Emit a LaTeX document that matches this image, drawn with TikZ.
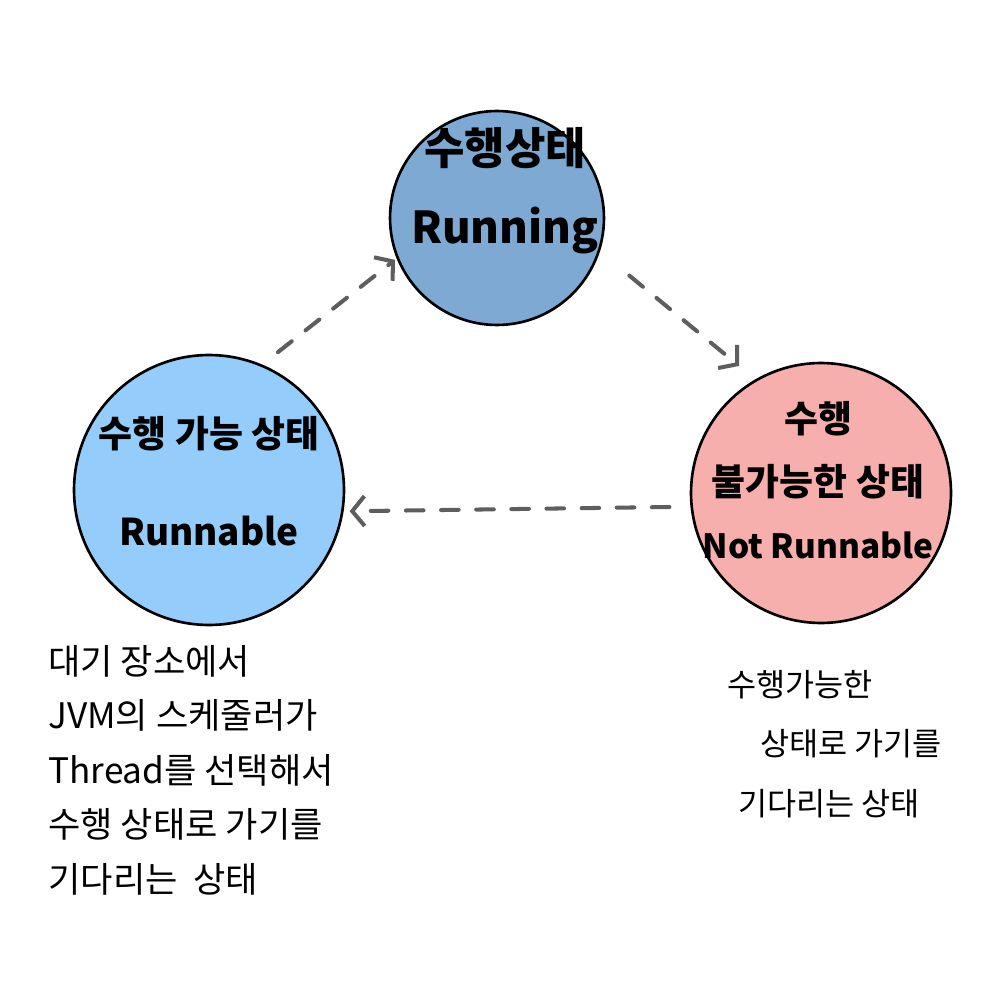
\documentclass[tikz,border=0pt]{standalone}
\usepackage{fontspec}
\setmainfont{Noto Sans CJK KR}
\usetikzlibrary{arrows.meta}
\definecolor{runblue}{HTML}{7DA9D3}
\definecolor{readyblue}{HTML}{94CDFB}
\definecolor{waitpink}{HTML}{F7AFAD}
\definecolor{flowgray}{HTML}{5E5E5E}

\begin{document}
\begin{tikzpicture}[x=0.02cm,y=-0.02cm,
    state/.style={circle,draw=black,line width=1.5pt,inner sep=0pt},
    flow/.style={draw=flowgray,line width=2.3pt,line cap=round,
        dash pattern=on 10pt off 10pt,
        -{Straight Barb[length=7pt,width=17pt,line width=2.3pt]}},
    note/.style={align=left,inner sep=0pt}]
    \useasboundingbox (0,0) rectangle (1004,1000);
    % the three states
    \node[state,fill=runblue,minimum size=4.28cm] (running) at (497,218) {};
    \node[state,fill=readyblue,minimum size=5.4cm] (runnable) at (209,490) {};
    \node[state,fill=waitpink,minimum size=5.2cm] (notrun) at (821,493) {};
    \node[font=\bfseries\fontsize{25}{45}\selectfont,align=center] (runningtxt)
        at (505,191) {수행상태\\Running};
    \node[font=\bfseries\fontsize{21}{56}\selectfont,align=center] (runnabletxt)
        at (209,481) {수행 가능 상태\\Runnable};
    \node[font=\bfseries\fontsize{21}{36}\selectfont,align=center] (notruntxt)
        at (818,480) {수행\\불가능한 상태\\{\fontsize{19}{36}\selectfont Not Runnable}};
    % transitions
    \draw[flow,shorten <=0.4cm,shorten >=0.04cm] (runnable.67) -- (running.202);
    \draw[flow,shorten <=0.76cm,shorten >=0.42cm] (running.342) -- (notrun.120);
    \draw[flow,shorten <=0.42cm,shorten >=0.12cm] (notrun.186) -- (runnable.351);
    % notes
    \node[note,anchor=west,font=\fontsize{20}{31}\selectfont] (runnablenote) at (48,770)
        {대기 장소에서\\JVM의 스케줄러가\\Thread를 선택해서\\수행 상태로 가기를\\기다리는 \ 상태};
    \node[note,anchor=west,font=\fontsize{18}{34}\selectfont] (notrunnote) at (727,744)
        {수행가능한\\\hspace{0.66cm}상태로 가기를\\\hspace{0.22cm}기다리는 상태};
\end{tikzpicture}
\end{document}
